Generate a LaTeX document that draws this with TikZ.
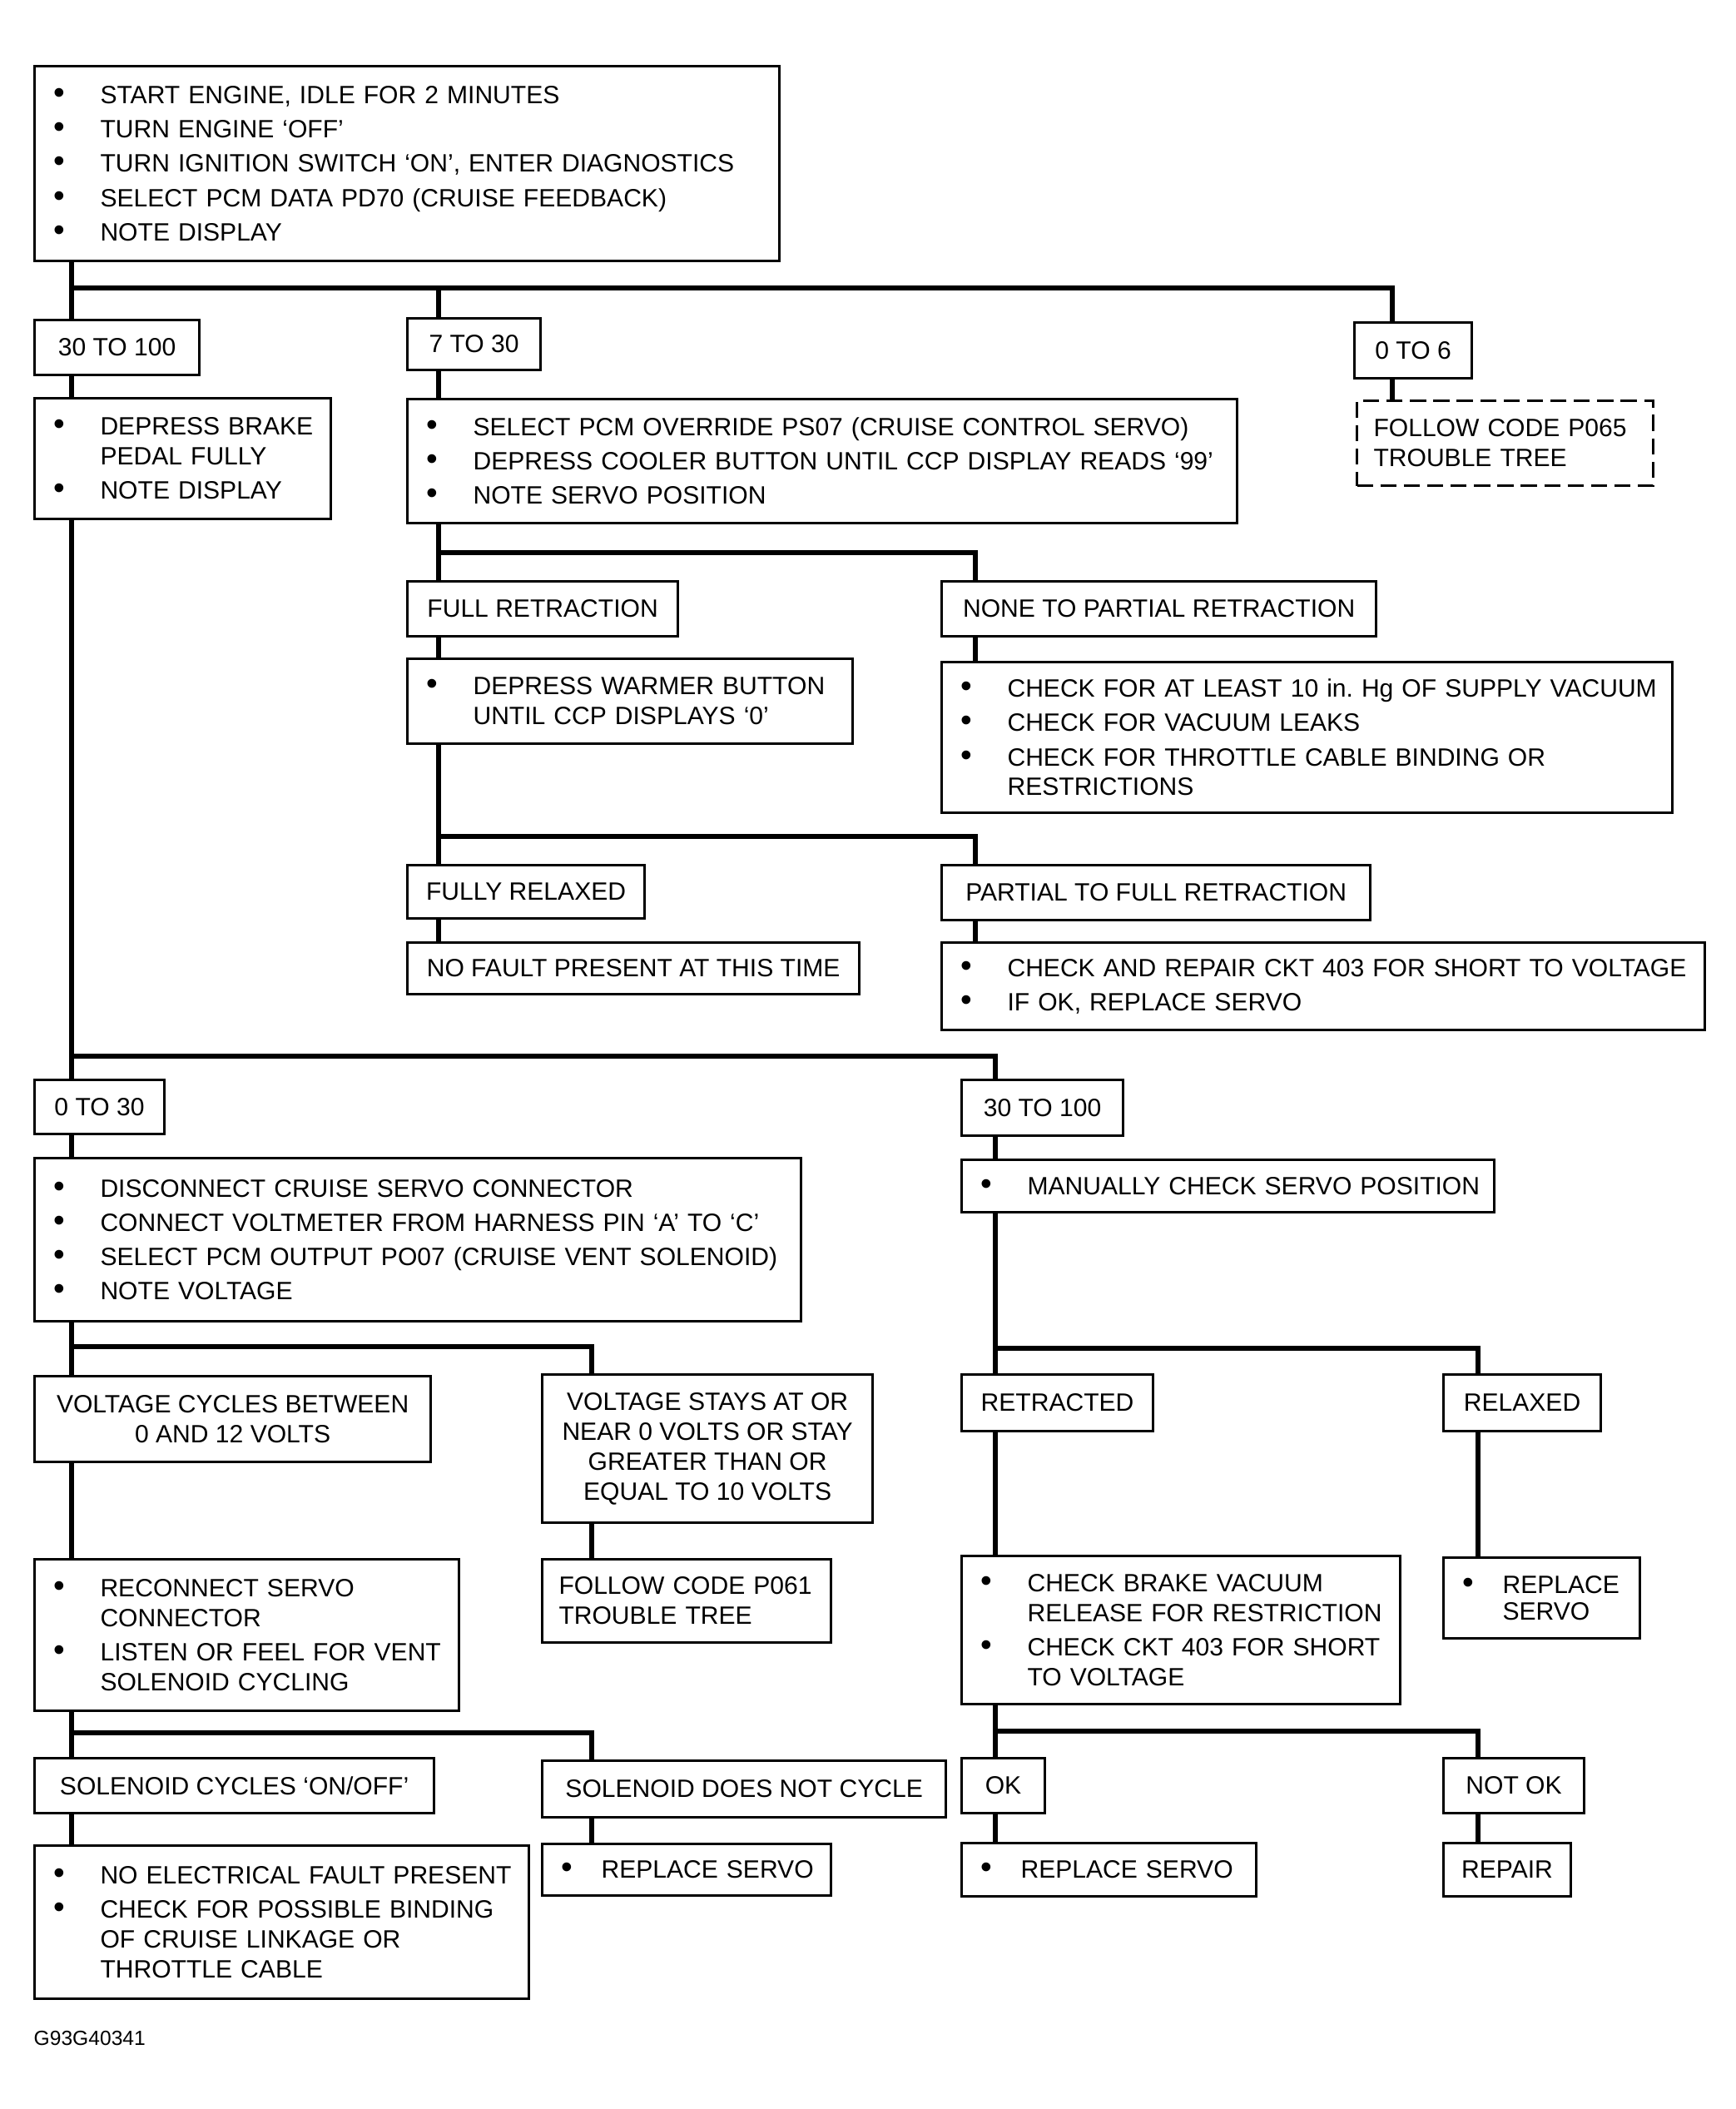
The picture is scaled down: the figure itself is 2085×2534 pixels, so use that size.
\documentclass[tikz,border=0pt]{standalone}
\usepackage{fontspec}
\setmainfont{Liberation Sans}
\usepackage{graphicx}
\usepackage{tikz}

\newcommand{\bul}[2][0.52cm]{\makebox[#1][l]{\hspace*{-0.045cm}\scalebox{1.3}{\textbullet}}\mbox{#2}}
\newcommand{\cont}[2][0.52cm]{\hspace*{#1}\mbox{#2}}
\frenchspacing

\begin{document}
\begin{tikzpicture}[
  x=0.01cm, y=-0.01cm,
  box/.style={rectangle,draw=black,line width=0.85pt,anchor=north west,inner sep=0pt,
              font=\fontsize{8.55}{10.2}\selectfont},
  lab/.style={box,align=center},
  lst/.style={box,align=left,inner xsep=0.27cm},
  dbox/.style={lst,dash pattern=on 5.5pt off 2.5pt,inner xsep=0.2cm},
  conn/.style={line width=1.5pt}
]
  \useasboundingbox (0,0) rectangle (2085,2534);

  % top of the tree
  \node[lst,minimum width=8.94cm,minimum height=2.34cm,text width=8.40cm] (start) at (40,78)
    {\bul{START ENGINE, IDLE FOR 2 MINUTES}\\[1.5pt]
     \bul{TURN ENGINE `OFF'}\\[1.5pt]
     \bul{TURN IGNITION SWITCH `ON', ENTER DIAGNOSTICS}\\[1.5pt]
     \bul{SELECT PCM DATA PD70 (CRUISE FEEDBACK)}\\[1.5pt]
     \bul{NOTE DISPLAY}};
  \node[lab,minimum width=1.98cm,minimum height=0.66cm] (r30a) at (40,383) {30 TO 100};
  \node[lab,minimum width=1.60cm,minimum height=0.62cm] (r7) at (488,381) {7 TO 30};
  \node[lab,minimum width=1.41cm,minimum height=0.67cm] (r06) at (1626,386) {0 TO 6};
  \node[dbox,minimum width=3.56cm,minimum height=1.02cm,text width=3.16cm] (p065) at (1629,480)
    {\mbox{FOLLOW CODE P065}\\TROUBLE TREE};
  \node[lst,minimum width=3.56cm,minimum height=1.45cm,text width=3.02cm] (brake) at (40,477)
    {\bul{DEPRESS BRAKE}\\ \cont{PEDAL FULLY}\\[1.5pt]
     \bul{NOTE DISPLAY}};

  % 7 to 30 branch
  \node[lst,minimum width=9.96cm,minimum height=1.49cm,text width=9.42cm] (servo) at (488,478)
    {\bul{SELECT PCM OVERRIDE PS07 (CRUISE CONTROL SERVO)}\\[1.5pt]
     \bul{DEPRESS COOLER BUTTON UNTIL CCP DISPLAY READS `99'}\\[1.5pt]
     \bul{NOTE SERVO POSITION}};
  \node[lab,minimum width=3.25cm,minimum height=0.66cm] (fullret) at (488,697) {FULL RETRACTION};
  \node[lab,minimum width=5.22cm,minimum height=0.66cm] (noneret) at (1130,697) {NONE TO PARTIAL RETRACTION};
  \node[lst,minimum width=5.35cm,minimum height=1.02cm,text width=4.81cm] (warmer) at (488,790)
    {\bul{DEPRESS WARMER BUTTON}\\ \cont{UNTIL CCP DISPLAYS `0'}};
  \node[lst,minimum width=8.77cm,minimum height=1.81cm,text width=8.23cm] (vacuum) at (1130,794)
    {\bul{CHECK FOR AT LEAST 10 in. Hg OF SUPPLY VACUUM}\\[1.5pt]
     \bul{CHECK FOR VACUUM LEAKS}\\[1.5pt]
     \bul{CHECK FOR THROTTLE CABLE BINDING OR}\\ \cont{RESTRICTIONS}};
  \node[lab,minimum width=2.85cm,minimum height=0.64cm] (relaxed) at (488,1038) {FULLY RELAXED};
  \node[lab,minimum width=5.15cm,minimum height=0.66cm] (partret) at (1130,1038) {PARTIAL TO FULL RETRACTION};
  \node[lab,minimum width=5.43cm,minimum height=0.62cm] (nofault) at (488,1131) {NO FAULT PRESENT AT THIS TIME};
  \node[lst,minimum width=9.16cm,minimum height=1.05cm,text width=8.62cm] (ckt403) at (1130,1131)
    {\bul{CHECK AND REPAIR CKT 403 FOR SHORT TO VOLTAGE}\\[1.5pt]
     \bul{IF OK, REPLACE SERVO}};

  % 30 to 100 branch, left side
  \node[lab,minimum width=1.56cm,minimum height=0.65cm] (r030) at (40,1296) {0 TO 30};
  \node[lst,minimum width=9.20cm,minimum height=1.96cm,text width=8.66cm] (disc) at (40,1390)
    {\bul{DISCONNECT CRUISE SERVO CONNECTOR}\\[1.5pt]
     \bul{CONNECT VOLTMETER FROM HARNESS PIN `A' TO `C'}\\[1.5pt]
     \bul{SELECT PCM OUTPUT PO07 (CRUISE VENT SOLENOID)}\\[1.5pt]
     \bul{NOTE VOLTAGE}};
  \node[lab,minimum width=4.76cm,minimum height=1.03cm] (vcyc) at (40,1652)
    {VOLTAGE CYCLES BETWEEN\\0 AND 12 VOLTS};
  \node[lab,minimum width=3.97cm,minimum height=1.78cm] (vstay) at (650,1650)
    {VOLTAGE STAYS AT OR\\NEAR 0 VOLTS OR STAY\\GREATER THAN OR\\EQUAL TO 10 VOLTS};
  \node[lst,minimum width=5.10cm,minimum height=1.82cm,text width=4.56cm] (reconn) at (40,1872)
    {\bul{RECONNECT SERVO}\\ \cont{CONNECTOR}\\[1.5pt]
     \bul{LISTEN OR FEEL FOR VENT}\\ \cont{SOLENOID CYCLING}};
  \node[lst,inner xsep=0.2cm,minimum width=3.47cm,minimum height=1.00cm,text width=3.07cm] (p061) at (650,1872)
    {\mbox{FOLLOW CODE P061}\\TROUBLE TREE};
  \node[lab,minimum width=4.80cm,minimum height=0.66cm] (solcyc) at (40,2111) {SOLENOID CYCLES `ON/OFF'};
  \node[lab,minimum width=4.85cm,minimum height=0.68cm] (solnot) at (650,2114) {SOLENOID DOES NOT CYCLE};
  \node[lst,minimum width=5.94cm,minimum height=1.84cm,text width=5.40cm] (noelec) at (40,2216)
    {\bul{NO ELECTRICAL FAULT PRESENT}\\[1.5pt]
     \bul{CHECK FOR POSSIBLE BINDING}\\ \cont{OF CRUISE LINKAGE OR}\\ \cont{THROTTLE CABLE}};
  \node[lst,minimum width=3.47cm,minimum height=0.62cm,text width=2.93cm] (repl1) at (650,2214)
    {\bul[0.44cm]{REPLACE SERVO}};

  % 30 to 100 branch, right side
  \node[lab,minimum width=1.94cm,minimum height=0.67cm] (r30b) at (1154,1296) {30 TO 100};
  \node[lst,minimum width=6.40cm,minimum height=0.63cm,text width=5.86cm] (manual) at (1154,1392)
    {\bul{MANUALLY CHECK SERVO POSITION}};
  \node[lab,minimum width=2.30cm,minimum height=0.68cm] (retr) at (1154,1650) {RETRACTED};
  \node[lab,minimum width=1.89cm,minimum height=0.68cm] (relx) at (1733,1650) {RELAXED};
  \node[lst,minimum width=5.27cm,minimum height=1.78cm,text width=4.73cm] (brakevac) at (1154,1868)
    {\bul{CHECK BRAKE VACUUM}\\ \cont{RELEASE FOR RESTRICTION}\\[1.5pt]
     \bul{CHECK CKT 403 FOR SHORT}\\ \cont{TO VOLTAGE}};
  \node[lst,minimum width=2.36cm,minimum height=0.97cm,text width=1.82cm] (repl2) at (1733,1870)
    {\bul[0.44cm]{REPLACE}\\[-1pt] \cont[0.44cm]{SERVO}};
  \node[lab,minimum width=1.00cm,minimum height=0.66cm] (ok) at (1154,2111) {OK};
  \node[lab,minimum width=1.69cm,minimum height=0.66cm] (notok) at (1733,2111) {NOT OK};
  \node[lst,minimum width=3.54cm,minimum height=0.64cm,text width=3.00cm] (repl3) at (1154,2213)
    {\bul[0.44cm]{REPLACE SERVO}};
  \node[lab,minimum width=1.53cm,minimum height=0.64cm] (repair) at (1733,2213) {REPAIR};

  \node[anchor=west,inner sep=0pt,font=\fontsize{7}{8}\selectfont] (figid) at (40,2449) {G93G40341};

  % split points
  \coordinate (sp1) at (86,346);
  \coordinate (sp1e) at (1673,346);
  \coordinate (sp2) at (527,664);
  \coordinate (sp2e) at (1172,664);
  \coordinate (sp3) at (527,1005);
  \coordinate (sp4) at (86,1269);
  \coordinate (sp5) at (86,1618);
  \coordinate (sp5e) at (711,1618);
  \coordinate (sp6) at (86,2082);
  \coordinate (sp7) at (1196,1620);
  \coordinate (sp7e) at (1776,1620);
  \coordinate (sp8) at (1196,2080);

  \draw[conn] (start.south -| sp1) -- (r30a.north -| sp1);
  \draw[conn] (sp1) -| (r7.north -| sp2);
  \draw[conn] (sp1) -- (sp1e) -- (r06.north -| sp1e);
  \draw[conn] (r06.south -| sp1e) -- (p065.north -| sp1e);
  \draw[conn] (r30a.south -| sp1) -- (brake.north -| sp1);
  \draw[conn] (brake.south -| sp1) -- (r030.north -| sp1);

  \draw[conn] (r7.south -| sp2) -- (servo.north -| sp2);
  \draw[conn] (servo.south -| sp2) -- (fullret.north -| sp2);
  \draw[conn] (sp2) -| (noneret.north -| sp2e);
  \draw[conn] (noneret.south -| sp2e) -- (vacuum.north -| sp2e);
  \draw[conn] (fullret.south -| sp2) -- (warmer.north -| sp2);
  \draw[conn] (warmer.south -| sp2) -- (relaxed.north -| sp2);
  \draw[conn] (sp3) -| (partret.north -| sp2e);
  \draw[conn] (relaxed.south -| sp2) -- (nofault.north -| sp2);
  \draw[conn] (partret.south -| sp2e) -- (ckt403.north -| sp2e);

  \draw[conn] (sp4) -| (r30b.north -| sp7);
  \draw[conn] (r030.south -| sp1) -- (disc.north -| sp1);
  \draw[conn] (disc.south -| sp1) -- (vcyc.north -| sp1);
  \draw[conn] (sp5) -| (vstay.north -| sp5e);
  \draw[conn] (vcyc.south -| sp1) -- (reconn.north -| sp1);
  \draw[conn] (vstay.south -| sp5e) -- (p061.north -| sp5e);
  \draw[conn] (reconn.south -| sp1) -- (solcyc.north -| sp1);
  \draw[conn] (sp6) -| (solnot.north -| sp5e);
  \draw[conn] (solcyc.south -| sp1) -- (noelec.north -| sp1);
  \draw[conn] (solnot.south -| sp5e) -- (repl1.north -| sp5e);

  \draw[conn] (r30b.south -| sp7) -- (manual.north -| sp7);
  \draw[conn] (manual.south -| sp7) -- (retr.north -| sp7);
  \draw[conn] (sp7) -| (relx.north -| sp7e);
  \draw[conn] (retr.south -| sp7) -- (brakevac.north -| sp7);
  \draw[conn] (relx.south -| sp7e) -- (repl2.north -| sp7e);
  \draw[conn] (brakevac.south -| sp7) -- (ok.north -| sp7);
  \draw[conn] (sp8) -| (notok.north -| sp7e);
  \draw[conn] (ok.south -| sp7) -- (repl3.north -| sp7);
  \draw[conn] (notok.south -| sp7e) -- (repair.north -| sp7e);
\end{tikzpicture}
\end{document}
